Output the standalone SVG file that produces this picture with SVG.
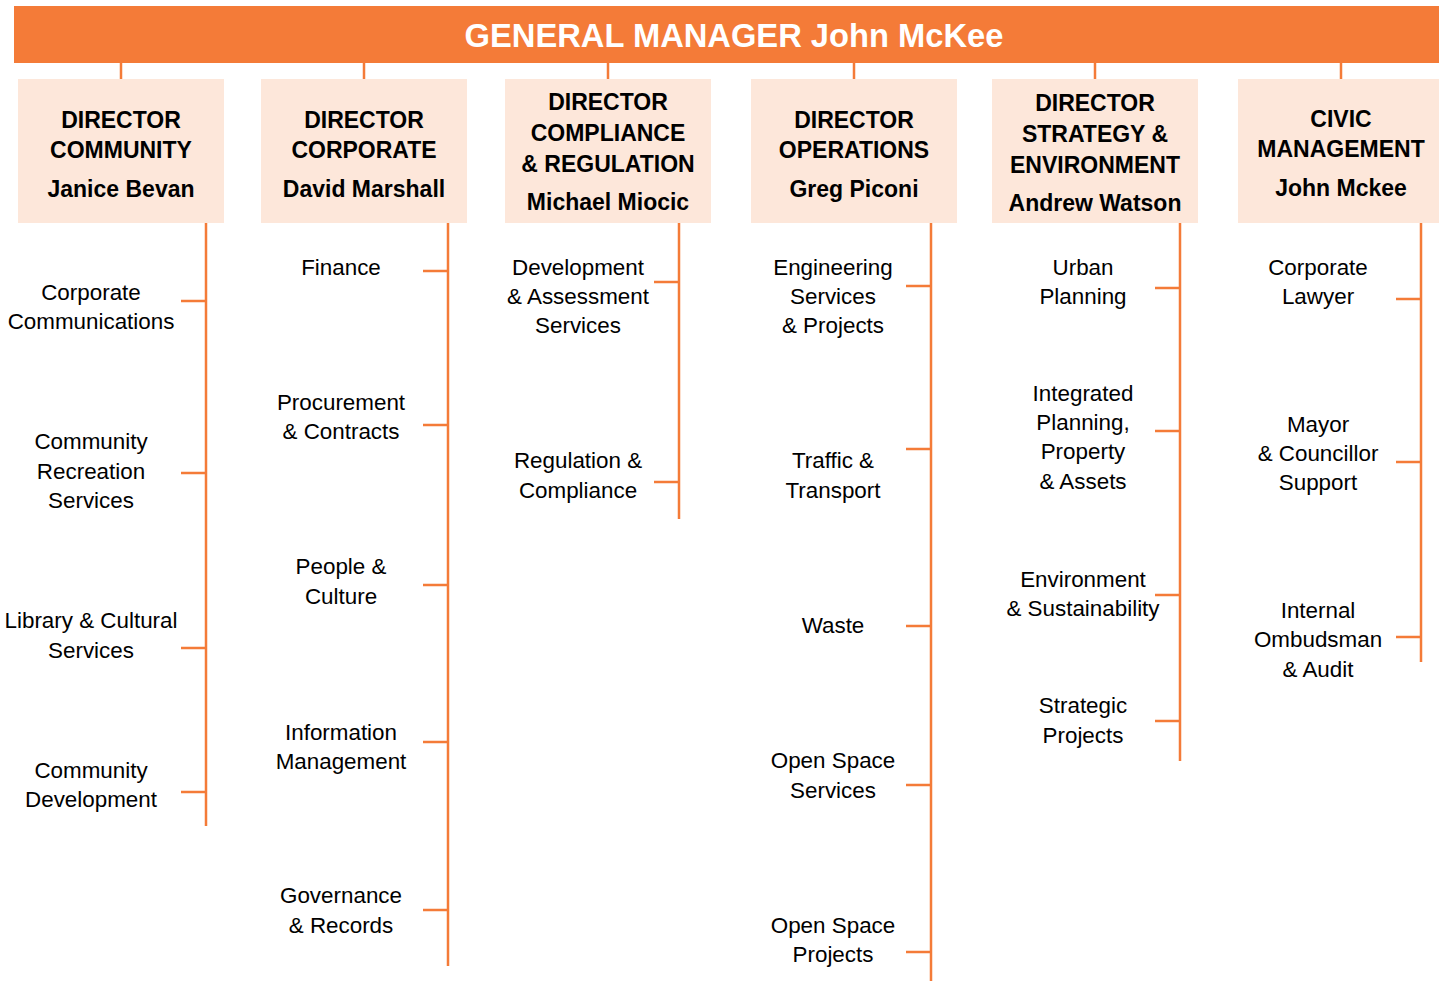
<svg xmlns="http://www.w3.org/2000/svg" width="1439" height="982" viewBox="0 0 1439 982">
  <style>
    .bar { fill: #F47B38; }
    .box { fill: #FDE7DA; }
    .ln { stroke: #F47B38; stroke-width: 2.5; fill: none; }
    .title { font-family: "Liberation Sans", Arial, sans-serif; font-weight: bold; font-size: 32.7px; fill: #FFFFFF; text-anchor: middle; }
    .head { font-family: "Liberation Sans", Arial, sans-serif; font-weight: bold; font-size: 23px; fill: #000000; text-anchor: middle; }
    .unit { font-family: "Liberation Sans", Arial, sans-serif; font-size: 22.4px; fill: #000000; text-anchor: middle; }
  </style>
  <rect width="1439" height="982" fill="#FFFFFF"/>

  <!-- connectors -->
  <g id="connectors">
    <!-- bar to director boxes -->
    <path class="ln" d="M121 63V79 M364 63V79 M608 63V79 M854 63V79 M1095 63V79 M1341 63V79"/>
    <!-- community spine -->
    <path class="ln" d="M206 223V826 M181 301H206 M181 473H206 M181 648H206 M181 792H206"/>
    <!-- corporate spine -->
    <path class="ln" d="M448 223V966 M423 271H448 M423 425H448 M423 585H448 M423 742H448 M423 910H448"/>
    <!-- compliance spine -->
    <path class="ln" d="M679 223V519 M654 282H679 M654 482H679"/>
    <!-- operations spine -->
    <path class="ln" d="M931 223V981 M906 286H931 M906 449H931 M906 626H931 M906 785H931 M906 952H931"/>
    <!-- strategy spine -->
    <path class="ln" d="M1180 223V761 M1155 288H1180 M1155 431H1180 M1155 595H1180 M1155 721H1180"/>
    <!-- civic spine -->
    <path class="ln" d="M1421 223V662 M1396 299H1421 M1396 462H1421 M1396 637H1421"/>
  </g>

  <g id="general-manager">
    <rect class="bar" x="14" y="6" width="1425" height="57"/>
    <text class="title" x="734" y="47">GENERAL MANAGER John McKee</text>
  </g>

  <g id="dir-community">
    <rect class="box" x="18" y="79" width="206" height="144"/>
    <text class="head" x="121" y="128">DIRECTOR</text>
    <text class="head" x="121" y="158">COMMUNITY</text>
    <text class="head" x="121" y="197">Janice Bevan</text>
  </g>
  <g id="dir-corporate">
    <rect class="box" x="261" y="79" width="206" height="144"/>
    <text class="head" x="364" y="128">DIRECTOR</text>
    <text class="head" x="364" y="158">CORPORATE</text>
    <text class="head" x="364" y="197">David Marshall</text>
  </g>
  <g id="dir-compliance">
    <rect class="box" x="505" y="79" width="206" height="144"/>
    <text class="head" x="608" y="110">DIRECTOR</text>
    <text class="head" x="608" y="141">COMPLIANCE</text>
    <text class="head" x="608" y="172">&amp; REGULATION</text>
    <text class="head" x="608" y="210">Michael Miocic</text>
  </g>
  <g id="dir-operations">
    <rect class="box" x="751" y="79" width="206" height="144"/>
    <text class="head" x="854" y="128">DIRECTOR</text>
    <text class="head" x="854" y="158">OPERATIONS</text>
    <text class="head" x="854" y="197">Greg Piconi</text>
  </g>
  <g id="dir-strategy">
    <rect class="box" x="992" y="79" width="206" height="144"/>
    <text class="head" x="1095" y="111">DIRECTOR</text>
    <text class="head" x="1095" y="142">STRATEGY &amp;</text>
    <text class="head" x="1095" y="173">ENVIRONMENT</text>
    <text class="head" x="1095" y="211">Andrew Watson</text>
  </g>
  <g id="civic-management">
    <rect class="box" x="1238" y="79" width="206" height="144"/>
    <text class="head" x="1341" y="127">CIVIC</text>
    <text class="head" x="1341" y="157">MANAGEMENT</text>
    <text class="head" x="1341" y="196">John Mckee</text>
  </g>

  <!-- community units -->
  <g id="corporate-communications"><text class="unit" x="91" y="300">Corporate</text><text class="unit" x="91" y="329">Communications</text></g>
  <g id="community-recreation"><text class="unit" x="91" y="449">Community</text><text class="unit" x="91" y="479">Recreation</text><text class="unit" x="91" y="508">Services</text></g>
  <g id="library-cultural"><text class="unit" x="91" y="628">Library &amp; Cultural</text><text class="unit" x="91" y="658">Services</text></g>
  <g id="community-development"><text class="unit" x="91" y="778">Community</text><text class="unit" x="91" y="807">Development</text></g>

  <!-- corporate units -->
  <g id="finance"><text class="unit" x="341" y="275">Finance</text></g>
  <g id="procurement"><text class="unit" x="341" y="410">Procurement</text><text class="unit" x="341" y="439">&amp; Contracts</text></g>
  <g id="people-culture"><text class="unit" x="341" y="574">People &amp;</text><text class="unit" x="341" y="604">Culture</text></g>
  <g id="information-management"><text class="unit" x="341" y="740">Information</text><text class="unit" x="341" y="769">Management</text></g>
  <g id="governance"><text class="unit" x="341" y="903">Governance</text><text class="unit" x="341" y="933">&amp; Records</text></g>

  <!-- compliance units -->
  <g id="development-assessment"><text class="unit" x="578" y="275">Development</text><text class="unit" x="578" y="304">&amp; Assessment</text><text class="unit" x="578" y="333">Services</text></g>
  <g id="regulation-compliance"><text class="unit" x="578" y="468">Regulation &amp;</text><text class="unit" x="578" y="498">Compliance</text></g>

  <!-- operations units -->
  <g id="engineering"><text class="unit" x="833" y="275">Engineering</text><text class="unit" x="833" y="304">Services</text><text class="unit" x="833" y="333">&amp; Projects</text></g>
  <g id="traffic-transport"><text class="unit" x="833" y="468">Traffic &amp;</text><text class="unit" x="833" y="498">Transport</text></g>
  <g id="waste"><text class="unit" x="833" y="633">Waste</text></g>
  <g id="open-space-services"><text class="unit" x="833" y="768">Open Space</text><text class="unit" x="833" y="798">Services</text></g>
  <g id="open-space-projects"><text class="unit" x="833" y="933">Open Space</text><text class="unit" x="833" y="962">Projects</text></g>

  <!-- strategy units -->
  <g id="urban-planning"><text class="unit" x="1083" y="275">Urban</text><text class="unit" x="1083" y="304">Planning</text></g>
  <g id="integrated-planning"><text class="unit" x="1083" y="401">Integrated</text><text class="unit" x="1083" y="430">Planning,</text><text class="unit" x="1083" y="459">Property</text><text class="unit" x="1083" y="489">&amp; Assets</text></g>
  <g id="environment"><text class="unit" x="1083" y="587">Environment</text><text class="unit" x="1083" y="616">&amp; Sustainability</text></g>
  <g id="strategic-projects"><text class="unit" x="1083" y="713">Strategic</text><text class="unit" x="1083" y="743">Projects</text></g>

  <!-- civic units -->
  <g id="corporate-lawyer"><text class="unit" x="1318" y="275">Corporate</text><text class="unit" x="1318" y="304">Lawyer</text></g>
  <g id="mayor-support"><text class="unit" x="1318" y="432">Mayor</text><text class="unit" x="1318" y="461">&amp; Councillor</text><text class="unit" x="1318" y="490">Support</text></g>
  <g id="ombudsman"><text class="unit" x="1318" y="618">Internal</text><text class="unit" x="1318" y="647">Ombudsman</text><text class="unit" x="1318" y="677">&amp; Audit</text></g>
</svg>
